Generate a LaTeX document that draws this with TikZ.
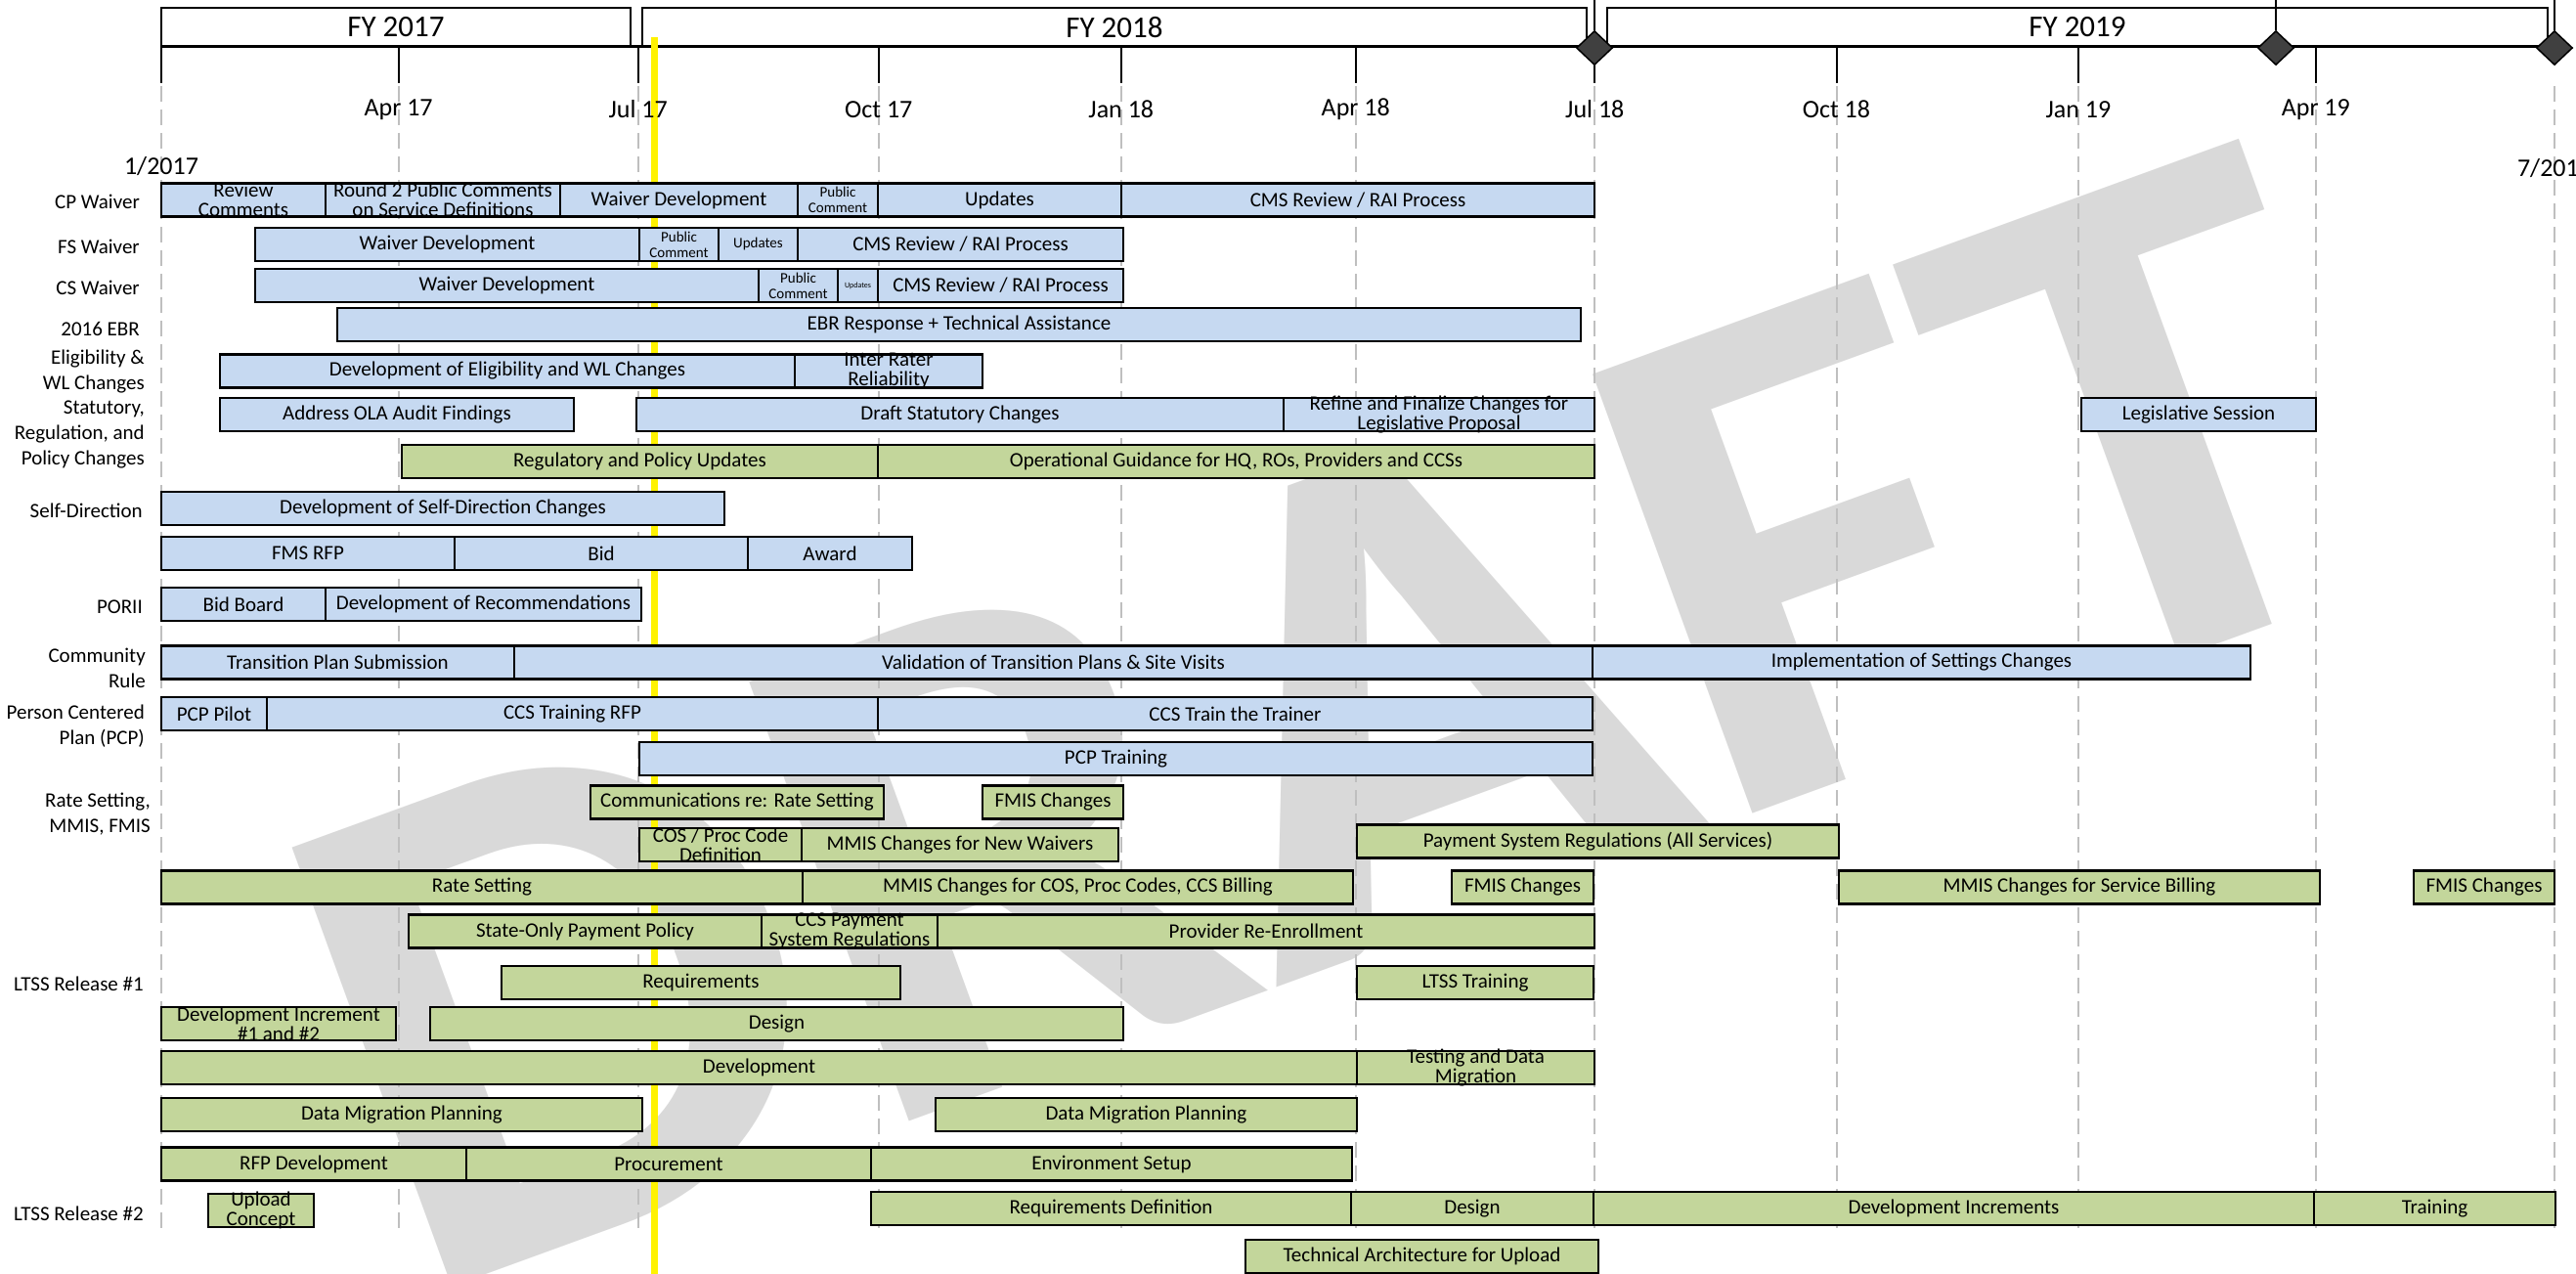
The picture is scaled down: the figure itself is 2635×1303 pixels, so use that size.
\documentclass[tikz,border=0pt]{standalone}
\usepackage{fontspec}
\setmainfont{Carlito}
\usetikzlibrary{positioning,shapes.geometric}
\definecolor{barblue}{HTML}{C6D9F1}
\definecolor{bargreen}{HTML}{C3D69B}
\definecolor{wmgrey}{HTML}{D9D9D9}
\definecolor{gridgrey}{HTML}{BFBFBF}
\definecolor{msgrey}{HTML}{404040}
\begin{document}
\begin{tikzpicture}[x=1pt,y=-1pt,
        bar/.style={rectangle,draw,line width=2.2pt,minimum height=34pt,
          inner sep=0pt,outer sep=0pt,anchor=west,align=center,
          font=\fontsize{21}{20}\selectfont},
        bluebar/.style={bar,fill=barblue},
        greenbar/.style={bar,fill=bargreen},
        twoline/.style={align=center,inner sep=0pt,font=\fontsize{21}{20}\selectfont},
        smalltxt/.style={font=\fontsize{15}{16}\selectfont},
        tinytxt/.style={font=\fontsize{8}{8}\selectfont},
        rowlabel/.style={anchor=east,align=right,inner sep=0pt,
          font=\fontsize{21}{26}\selectfont},
        datelabel/.style={inner sep=0pt,font=\fontsize{26}{26}\selectfont},
        fybox/.style={rectangle,draw,fill=white,line width=2pt,minimum height=40pt,
          inner sep=0pt,font=\fontsize{31}{31}\selectfont},
        milestone/.style={diamond,draw,fill=msgrey,line width=1.5pt,
          minimum width=37pt,minimum height=35pt,inner sep=0pt},
        watermark/.style={text=wmgrey,inner sep=0pt,anchor=base west,
          font=\fontsize{737}{737}\selectfont\bfseries,rotate=20,xscale=1.07}]
      \useasboundingbox (0,0) rectangle (2635,1303);

      \node[watermark] (draft) at (420,1332) {DRAFT};

      \foreach \gx in {165,407.6,652.7,898.8,1146.8,1386.7,1631.3,1878.5,2126,2368.8,2613}
        \draw[gridgrey,line width=2pt,dash pattern=on 16pt off 8pt] (\gx,88) -- (\gx,1262);

      \node[fybox,minimum width=480pt] (fy17) at (405,28) {FY 2017};
      \node[fybox,minimum width=966pt] (fy18) at (1140,28) {FY 2018};
      \node[fybox,minimum width=962pt] (fy19) at (2125,28) {FY 2019};
      \coordinate (axisL) at (165,48);
      \coordinate (axisR) at (2613,48);
      \draw[line width=3pt] (axisL) -- (axisR);
      \foreach \gx in {165,407.6,652.7,898.8,1146.8,1386.7,1631.3,1878.5,2126,2368.8}
        \draw[line width=2pt] (\gx,48) -- (\gx,85);
      \foreach \mx [count=\i] in {1631,2328,2613} {
        \node[milestone] (ms\i) at (\mx,49) {};
        \coordinate (mstop\i) at (\mx,0);
        \draw[line width=2pt] (mstop\i) -- (ms\i.north);
      }

      \draw[yellow,line width=7pt] (669,38) -- (669,1303);

      \foreach \gx/\gl [count=\i] in {407.6/Apr 17,652.7/Jul 17,898.8/Oct 17,1146.8/Jan 18,
          1386.7/Apr 18,1631.3/Jul 18,1878.5/Oct 18,2126/Jan 19,2368.8/Apr 19}
        \node[datelabel] (date\i) at (\gx,112) {\gl};
      \node[datelabel] (start) at (165,170) {1/2017};
      \node[datelabel] (finish) at (2613,172) {7/2019};

      \node[rowlabel] (lcp) at (143,206) {CP Waiver};
      \node[rowlabel] (lfs) at (143,252) {FS Waiver};
      \node[rowlabel] (lcs) at (143,294) {CS Waiver};
      \node[rowlabel] (lebr) at (143,336) {2016 EBR};
      \node[rowlabel] (lel) at (148,380) {Eligibility \&\\WL Changes};
      \node[rowlabel] (lst) at (148,444) {Statutory,\\Regulation, and\\Policy Changes};
      \node[rowlabel] (lsd) at (146,522) {Self-Direction};
      \node[rowlabel] (lpo) at (146,621) {PORII};
      \node[rowlabel] (lcr) at (149,683) {Community\\Rule};
      \node[rowlabel] (lpc) at (148,743) {Person Centered\\Plan (PCP)};
      \node[rowlabel] (lrs) at (154,833) {Rate Setting,\\MMIS, FMIS};
      \node[rowlabel] (ll1) at (147,1006) {LTSS Release \#1};
      \node[rowlabel] (ll2) at (147,1241) {LTSS Release \#2};

      \node[bluebar,minimum width=168pt,label={[twoline]center:Review\\Comments}] (cp1) at (165,204.5) {};
      \node[bluebar,minimum width=240pt,label={[twoline]center:Round 2 Public Comments\\on Service Definitions},right=0pt of cp1] (cp2) {};
      \node[bluebar,minimum width=243pt,right=0pt of cp2] (cp3) {Waiver Development};
      \node[bluebar,smalltxt,minimum width=82pt,right=0pt of cp3] (cp4) {Public\\Comment};
      \node[bluebar,minimum width=249pt,right=0pt of cp4] (cp5) {Updates};
      \node[bluebar,minimum width=484pt,right=0pt of cp5] (cp6) {CMS Review / RAI Process};

      \node[bluebar,minimum width=393pt] (fs1) at (261,250) {Waiver Development};
      \node[bluebar,smalltxt,minimum width=81pt,right=0pt of fs1] (fs2) {Public\\Comment};
      \node[bluebar,smalltxt,minimum width=81pt,right=0pt of fs2] (fs3) {Updates};
      \node[bluebar,minimum width=333pt,right=0pt of fs3] (fs4) {CMS Review / RAI Process};

      \node[bluebar,minimum width=515pt] (cs1) at (261,292) {Waiver Development};
      \node[bluebar,smalltxt,minimum width=81pt,right=0pt of cs1] (cs2) {Public\\Comment};
      \node[bluebar,tinytxt,minimum width=41pt,right=0pt of cs2] (cs3) {Updates};
      \node[bluebar,minimum width=251pt,right=0pt of cs3] (cs4) {CMS Review / RAI Process};

      \node[bluebar,minimum width=1272pt] (eb1) at (345,332) {EBR Response + Technical Assistance};

      \node[bluebar,minimum width=588pt] (el1) at (225,379.5) {Development of Eligibility and WL Changes};
      \node[bluebar,minimum width=192pt,label={[twoline]center:Inter Rater\\Reliability},right=0pt of el1] (el2) {};

      \node[bluebar,minimum width=362pt] (st1) at (225,424) {Address OLA Audit Findings};
      \node[bluebar,minimum width=662pt] (st2) at (651,424) {Draft Statutory Changes};
      \node[bluebar,minimum width=318pt,label={[twoline]center:Refine and Finalize Changes for\\Legislative Proposal},right=0pt of st2] (st3) {};
      \node[bluebar,minimum width=240pt] (st4) at (2129,424) {Legislative Session};

      \node[greenbar,minimum width=487pt] (rg1) at (411,472) {Regulatory and Policy Updates};
      \node[greenbar,minimum width=733pt,right=0pt of rg1] (rg2) {Operational Guidance for HQ, ROs, Providers and CCSs};

      \node[bluebar,minimum width=576pt] (sd1) at (165,520) {Development of Self-Direction Changes};

      \node[bluebar,minimum width=300pt] (fm1) at (165,566) {FMS RFP};
      \node[bluebar,minimum width=300pt,right=0pt of fm1] (fm2) {Bid};
      \node[bluebar,minimum width=168pt,right=0pt of fm2] (fm3) {Award};

      \node[bluebar,minimum width=168pt] (po1) at (165,618) {Bid Board};
      \node[bluebar,minimum width=323pt,right=0pt of po1] (po2) {Development of Recommendations};

      \node[bluebar,minimum width=361pt] (cr1) at (165,677.5) {Transition Plan Submission};
      \node[bluebar,minimum width=1103pt,right=0pt of cr1] (cr2) {Validation of Transition Plans \& Site Visits};
      \node[bluebar,minimum width=673pt,right=0pt of cr2] (cr3) {Implementation of Settings Changes};

      \node[bluebar,minimum width=108pt] (pc1) at (165,730) {PCP Pilot};
      \node[bluebar,minimum width=625pt,right=0pt of pc1] (pc2) {CCS Training RFP};
      \node[bluebar,minimum width=731pt,right=0pt of pc2] (pc3) {CCS Train the Trainer};

      \node[bluebar,minimum width=975pt] (pt1) at (654,776) {PCP Training};

      \node[greenbar,minimum width=300pt] (cm1) at (604,820.5) {Communications re: Rate Setting};
      \node[greenbar,minimum width=144pt] (cm2) at (1005,820.5) {FMIS Changes};

      \node[greenbar,minimum width=166pt,label={[twoline]center:COS / Proc Code\\Definition}] (co1) at (654,864) {};
      \node[greenbar,minimum width=324pt,right=0pt of co1] (co2) {MMIS Changes for New Waivers};
      \node[greenbar,minimum width=493pt] (co3) at (1388,860.5) {Payment System Regulations (All Services)};

      \node[greenbar,minimum width=656pt] (rs1) at (165,907.5) {Rate Setting};
      \node[greenbar,minimum width=563pt,right=0pt of rs1] (rs2) {MMIS Changes for COS, Proc Codes, CCS Billing};
      \node[greenbar,minimum width=145pt] (rs3) at (1485,907.5) {FMIS Changes};
      \node[greenbar,minimum width=492pt] (rs4) at (1881,907.5) {MMIS Changes for Service Billing};
      \node[greenbar,minimum width=144pt] (rs5) at (2469,907.5) {FMIS Changes};

      \node[greenbar,minimum width=361pt] (so1) at (418,952.5) {State-Only Payment Policy};
      \node[greenbar,minimum width=180pt,label={[twoline]center:CCS Payment\\System Regulations},right=0pt of so1] (so2) {};
      \node[greenbar,minimum width=672pt,right=0pt of so2] (so3) {Provider Re-Enrollment};

      \node[greenbar,minimum width=408pt] (rq1) at (513,1005) {Requirements};
      \node[greenbar,minimum width=242pt] (rq2) at (1388,1005) {LTSS Training};

      \node[greenbar,minimum width=240pt,label={[twoline]center:Development Increment\\\#1 and \#2}] (ds1) at (165,1047) {};
      \node[greenbar,minimum width=709pt] (ds2) at (440,1047) {Design};

      \node[greenbar,minimum width=1223pt] (dv1) at (165,1092) {Development};
      \node[greenbar,minimum width=243pt,label={[twoline]center:Testing and Data\\Migration},right=0pt of dv1] (dv2) {};

      \node[greenbar,minimum width=492pt] (dm1) at (165,1140) {Data Migration Planning};
      \node[greenbar,minimum width=431pt] (dm2) at (957,1140) {Data Migration Planning};

      \node[greenbar,minimum width=312pt] (rf1) at (165,1190.5) {RFP Development};
      \node[greenbar,minimum width=414pt,right=0pt of rf1] (rf2) {Procurement};
      \node[greenbar,minimum width=492pt,right=0pt of rf2] (rf3) {Environment Setup};

      \node[greenbar,minimum width=108pt,label={[twoline]center:Upload\\Concept}] (up1) at (213,1238) {};
      \node[greenbar,minimum width=491pt] (l2a) at (891,1236) {Requirements Definition};
      \node[greenbar,minimum width=248pt,right=0pt of l2a] (l2b) {Design};
      \node[greenbar,minimum width=737pt,right=0pt of l2b] (l2c) {Development Increments};
      \node[greenbar,minimum width=247pt,right=0pt of l2c] (l2d) {Training};

      \node[greenbar,minimum width=361pt] (ta1) at (1274,1285) {Technical Architecture for Upload};
\end{tikzpicture}
\end{document}
